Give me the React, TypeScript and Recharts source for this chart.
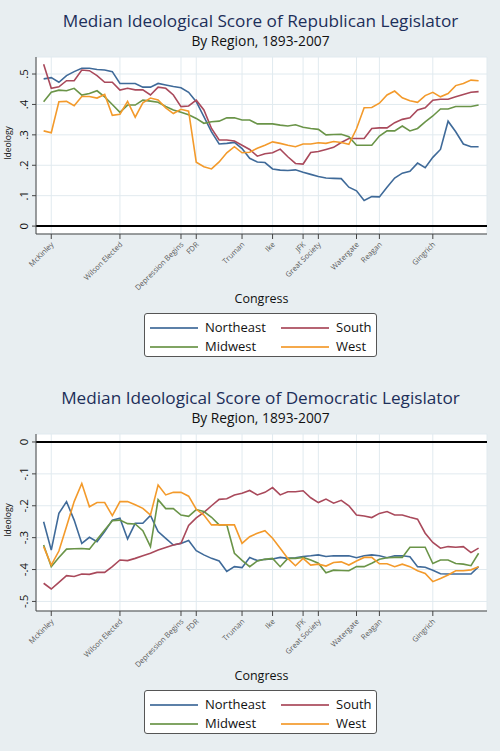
import React from "react";
import {
  CartesianGrid,
  Line,
  LineChart,
  ReferenceLine,
  XAxis,
  YAxis,
} from "recharts";

// congress number, 53rd (1893) to 110th (2007)
const congresses = [
  53, 54, 55, 56, 57, 58, 59, 60, 61, 62, 63, 64, 65, 66, 67, 68, 69, 70, 71, 72,
  73, 74, 75, 76, 77, 78, 79, 80, 81, 82, 83, 84, 85, 86, 87, 88, 89, 90, 91, 92,
  93, 94, 95, 96, 97, 98, 99, 100, 101, 102, 103, 104, 105, 106, 107, 108, 109, 110,
];

// events marked on the x axis
const eventCongress = [54, 63, 71, 73, 79, 83, 87, 89, 94, 97, 104];
const eventNames = [
  "McKinley", "Wilson Elected", "Depression Begins", "FDR", "Truman", "Ike",
  "JFK", "Great Society", "Watergate", "Reagan", "Gingrich",
];

const repNortheast = [
  0.484, 0.488, 0.473, 0.495, 0.508, 0.519, 0.519, 0.515, 0.513, 0.508,
  0.469, 0.469, 0.469, 0.457, 0.457, 0.469, 0.464, 0.459, 0.455, 0.44,
  0.409, 0.36, 0.31, 0.27, 0.272, 0.275, 0.255, 0.223, 0.211, 0.209,
  0.188, 0.184, 0.183, 0.185, 0.177, 0.17, 0.163, 0.158, 0.157, 0.156,
  0.128, 0.116, 0.084, 0.097, 0.096, 0.128, 0.158, 0.174, 0.18, 0.207,
  0.192, 0.226, 0.252, 0.345, 0.31, 0.27, 0.261, 0.261,
];
const repSouth = [
  0.532, 0.453, 0.458, 0.478, 0.478, 0.513, 0.511, 0.495, 0.473, 0.473,
  0.447, 0.453, 0.448, 0.448, 0.431, 0.457, 0.453, 0.431, 0.393, 0.395,
  0.414, 0.382, 0.321, 0.283, 0.283, 0.28, 0.266, 0.252, 0.23, 0.238,
  0.241, 0.253, 0.228, 0.206, 0.204, 0.242, 0.245, 0.252, 0.259, 0.275,
  0.288, 0.288, 0.288, 0.321, 0.323, 0.323, 0.34, 0.351, 0.356, 0.382,
  0.389, 0.414, 0.417, 0.417, 0.425, 0.433, 0.44, 0.442,
];
const repMidwest = [
  0.409, 0.44, 0.447, 0.445, 0.453, 0.431, 0.436, 0.445, 0.425, 0.4,
  0.374, 0.398, 0.398, 0.414, 0.411, 0.407, 0.393, 0.382, 0.374, 0.366,
  0.354, 0.338, 0.343, 0.345, 0.356, 0.356, 0.349, 0.349, 0.336, 0.336,
  0.336, 0.332, 0.329, 0.333, 0.325, 0.321, 0.318, 0.3, 0.301, 0.302,
  0.294, 0.266, 0.266, 0.266, 0.296, 0.313, 0.313, 0.329, 0.313, 0.321,
  0.343, 0.362, 0.385, 0.385, 0.393, 0.393, 0.393, 0.398,
];
const repWest = [
  0.313, 0.307, 0.409, 0.41, 0.396, 0.426, 0.426, 0.421, 0.433, 0.364,
  0.368, 0.41, 0.358, 0.405, 0.421, 0.415, 0.389, 0.37, 0.384, 0.378,
  0.21, 0.195, 0.188, 0.211, 0.241, 0.261, 0.241, 0.243, 0.256, 0.266,
  0.277, 0.272, 0.266, 0.261, 0.27, 0.27, 0.274, 0.272, 0.278, 0.275,
  0.269, 0.32, 0.389, 0.39, 0.404, 0.431, 0.444, 0.422, 0.412, 0.407,
  0.429, 0.44, 0.425, 0.436, 0.462, 0.469, 0.48, 0.478,
];

const demNortheast = [
  -0.25, -0.339, -0.224, -0.187, -0.245, -0.318, -0.299, -0.313, -0.281, -0.245,
  -0.239, -0.304, -0.255, -0.255, -0.23, -0.281, -0.302, -0.323, -0.318, -0.309,
  -0.341, -0.354, -0.365, -0.373, -0.406, -0.391, -0.394, -0.362, -0.372, -0.368,
  -0.367, -0.362, -0.365, -0.363, -0.359, -0.357, -0.354, -0.359, -0.357, -0.357,
  -0.357, -0.363, -0.357, -0.354, -0.357, -0.363, -0.357, -0.357, -0.36, -0.391,
  -0.393, -0.402, -0.413, -0.414, -0.414, -0.414, -0.414, -0.391,
];
const demSouth = [
  -0.443, -0.461, -0.44, -0.419, -0.422, -0.414, -0.415, -0.409, -0.409, -0.391,
  -0.37, -0.372, -0.365, -0.357, -0.349, -0.339, -0.331, -0.323, -0.318, -0.262,
  -0.238, -0.221, -0.2, -0.18, -0.178, -0.166, -0.161, -0.152, -0.166, -0.158,
  -0.143, -0.166, -0.156, -0.156, -0.153, -0.175, -0.19, -0.179, -0.192, -0.183,
  -0.2, -0.229, -0.232, -0.237, -0.224, -0.218, -0.229, -0.229, -0.236, -0.242,
  -0.286, -0.315, -0.333, -0.328, -0.33, -0.328, -0.347, -0.333,
];
const demMidwest = [
  -0.323, -0.391, -0.362, -0.336, -0.335, -0.334, -0.336, -0.306, -0.276, -0.247,
  -0.245, -0.256, -0.257, -0.278, -0.328, -0.181, -0.209, -0.209, -0.229, -0.233,
  -0.212, -0.218, -0.236, -0.26, -0.26, -0.349, -0.371, -0.391, -0.373, -0.368,
  -0.365, -0.391, -0.365, -0.365, -0.362, -0.37, -0.38, -0.41, -0.402, -0.403,
  -0.404, -0.391, -0.391, -0.38, -0.368, -0.363, -0.362, -0.362, -0.33, -0.33,
  -0.33, -0.381, -0.37, -0.37, -0.381, -0.383, -0.388, -0.349,
];
const demWest = [
  -0.328, -0.386, -0.342, -0.265, -0.187, -0.13, -0.203, -0.19, -0.19, -0.231,
  -0.187, -0.187, -0.197, -0.208, -0.229, -0.135, -0.166, -0.158, -0.158, -0.17,
  -0.211, -0.229, -0.26, -0.26, -0.26, -0.26, -0.318, -0.297, -0.286, -0.278,
  -0.302, -0.333, -0.365, -0.388, -0.365, -0.386, -0.383, -0.389, -0.378, -0.376,
  -0.386, -0.373, -0.362, -0.362, -0.382, -0.382, -0.391, -0.383, -0.391, -0.404,
  -0.412, -0.438, -0.428, -0.417, -0.404, -0.404, -0.401, -0.391,
];

const repTicks = [0, 0.1, 0.2, 0.3, 0.4, 0.5];
const demTicks = [-0.5, -0.4, -0.3, -0.2, -0.1, 0];

const COLORS = {
  northeast: "#3f6a99",
  south: "#a9495b",
  midwest: "#6a9448",
  west: "#f39a2b",
};
const FONT = "'Open Sans', 'Liberation Sans', sans-serif";
const BG = "#e8eef1";

function stataNum(v: number) {
  if (Math.abs(v) < 1e-9) return "0";
  const s = String(Math.round(v * 10) / 10);
  return s.replace("0.", ".");
}

function CongressTick(props: any) {
  const { x, y, payload } = props;
  const idx = eventCongress.indexOf(payload.value);
  const tx = x + 3;
  const ty = y + 4;
  return (
    <text
      x={tx}
      y={ty}
      transform={`rotate(-45 ${tx} ${ty})`}
      textAnchor="end"
      fontSize={7.5}
      fontFamily={FONT}
      fill="#5a5a5a"
    >
      {eventNames[idx]}
    </text>
  );
}

function IdeologyTick(props: any) {
  const { y, payload } = props;
  const tx = 28;
  return (
    <text
      x={tx}
      y={y}
      transform={`rotate(-90 ${tx} ${y})`}
      textAnchor="middle"
      fontSize={11.5}
      fontFamily={FONT}
      fill="#111"
    >
      {stataNum(payload.value)}
    </text>
  );
}

function LegendBox() {
  const item = (color: string, name: string, lx: number, ly: number) => (
    <>
      <div
        style={{
          position: "absolute",
          left: lx,
          top: ly,
          width: 48,
          height: 2,
          background: color,
          opacity: 0.85,
        }}
      />
      <div
        style={{
          position: "absolute",
          left: lx + 55,
          top: ly - 9,
          fontSize: 13,
          lineHeight: "18px",
          color: "#111",
          fontFamily: FONT,
        }}
      >
        {name}
      </div>
    </>
  );
  return (
    <div
      style={{
        position: "absolute",
        left: 144,
        top: 313,
        width: 233,
        height: 44,
        background: "#fff",
        border: "1px solid #555",
        borderRadius: 3,
        boxSizing: "border-box",
      }}
    >
      {item(COLORS.northeast, "Northeast", 5, 13)}
      {item(COLORS.south, "South", 136, 13)}
      {item(COLORS.midwest, "Midwest", 5, 32)}
      {item(COLORS.west, "West", 136, 32)}
    </div>
  );
}

function Panel({
  top,
  title,
  ne,
  so,
  mw,
  we,
  yDomain,
  yTicks,
}: {
  top: number;
  title: string;
  ne: number[];
  so: number[];
  mw: number[];
  we: number[];
  yDomain: [number, number];
  yTicks: number[];
}) {
  const rows = congresses.map((c, i) => ({
    congress: c,
    northeast: ne[i],
    south: so[i],
    midwest: mw[i],
    west: we[i],
  }));
  return (
    <div style={{ position: "absolute", left: 0, top, width: 500, height: 375 }}>
      <div
        style={{
          position: "absolute",
          left: 30,
          width: 461,
          top: 10,
          textAlign: "center",
          fontFamily: FONT,
          fontSize: 17.2,
          lineHeight: "22px",
          color: "#1d2f5a",
        }}
      >
        {title}
      </div>
      <div
        style={{
          position: "absolute",
          left: 30,
          width: 461,
          top: 32,
          textAlign: "center",
          fontFamily: FONT,
          fontSize: 13.8,
          lineHeight: "18px",
          color: "#111",
        }}
      >
        By Region, 1893-2007
      </div>
      <div
        style={{
          position: "absolute",
          left: 36,
          width: 451,
          top: 290,
          textAlign: "center",
          fontFamily: FONT,
          fontSize: 12.5,
          lineHeight: "18px",
          color: "#111",
        }}
      >
        Congress
      </div>
      <div
        style={{
          position: "absolute",
          left: -22,
          top: 137,
          width: 60,
          textAlign: "center",
          transform: "rotate(-90deg)",
          fontFamily: FONT,
          fontSize: 8.5,
          lineHeight: "12px",
          color: "#111",
        }}
      >
        Ideology
      </div>
      <div style={{ position: "absolute", left: 0, top: 0 }}>
        <LineChart
          width={500}
          height={375}
          data={rows}
          margin={{ top: 57, right: 13, bottom: 0, left: 0 }}
        >
          <CartesianGrid stroke="#e1eaef" strokeWidth={1} fill="#ffffff" />
          <XAxis
            dataKey="congress"
            type="number"
            domain={[52, 111.1]}
            ticks={eventCongress}
            interval={0}
            height={141}
            tick={<CongressTick />}
            tickSize={5}
            tickMargin={2}
            stroke="#444"
            allowDataOverflow
          />
          <YAxis
            type="number"
            domain={yDomain}
            ticks={yTicks}
            interval={0}
            width={36}
            tick={<IdeologyTick />}
            tickSize={4}
            stroke="#444"
            allowDataOverflow
          />
          <ReferenceLine y={0} stroke="#000" strokeWidth={2} />
          <Line type="linear" dataKey="northeast" stroke={COLORS.northeast} strokeWidth={1.6} dot={false} isAnimationActive={false} />
          <Line type="linear" dataKey="south" stroke={COLORS.south} strokeWidth={1.6} dot={false} isAnimationActive={false} />
          <Line type="linear" dataKey="midwest" stroke={COLORS.midwest} strokeWidth={1.6} dot={false} isAnimationActive={false} />
          <Line type="linear" dataKey="west" stroke={COLORS.west} strokeWidth={1.6} dot={false} isAnimationActive={false} />
        </LineChart>
      </div>
      <LegendBox />
    </div>
  );
}

export default function App() {
  return (
    <div
      style={{
        position: "absolute",
        left: 0,
        top: 0,
        width: 500,
        height: 751,
        background: BG,
        overflow: "hidden",
      }}
    >
      <Panel
        top={0}
        title="Median Ideological Score of Republican Legislator"
        ne={repNortheast}
        so={repSouth}
        mw={repMidwest}
        we={repWest}
        yDomain={[-0.026, 0.556]}
        yTicks={repTicks}
      />
      <Panel
        top={377}
        title="Median Ideological Score of Democratic Legislator"
        ne={demNortheast}
        so={demSouth}
        mw={demMidwest}
        we={demWest}
        yDomain={[-0.53, 0.025]}
        yTicks={demTicks}
      />
    </div>
  );
}
